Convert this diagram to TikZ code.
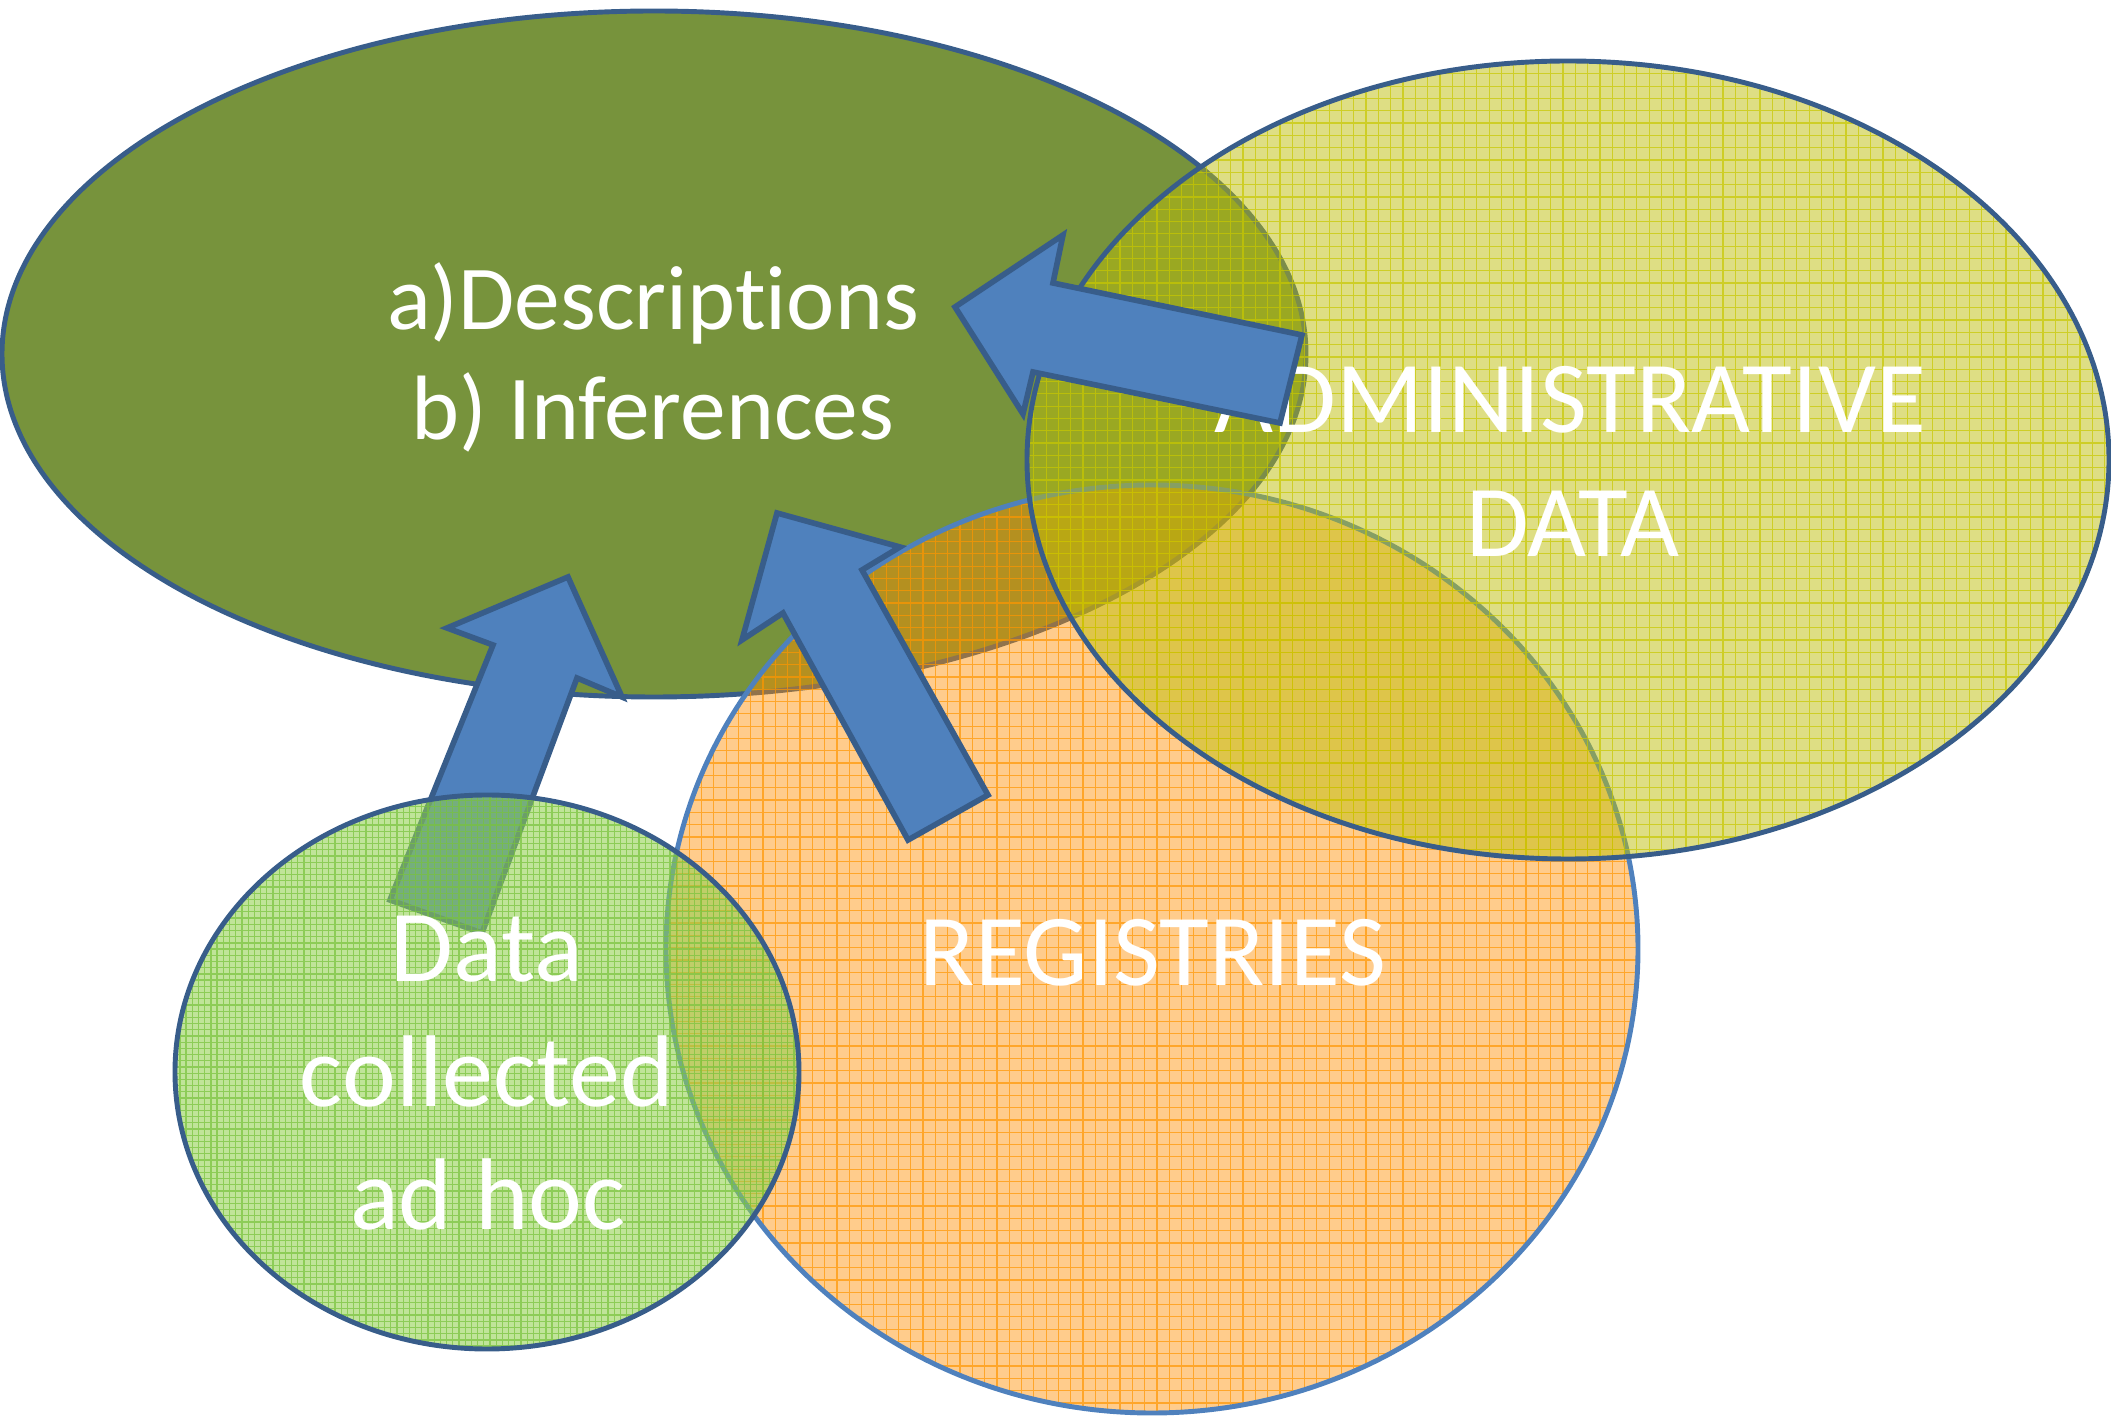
\documentclass[tikz,border=0pt]{standalone}
\usepackage{fontspec}
\setmainfont[Ligatures=NoCommon]{Carlito}

\definecolor{findgreen}{RGB}{119,147,60}
\definecolor{rimblue}{RGB}{56,93,138}
\definecolor{arrowblue}{RGB}{79,129,189}
\definecolor{regorange}{RGB}{255,142,0}
\definecolor{regmesh}{RGB}{255,150,0}
\definecolor{admyellow}{RGB}{190,190,10}
\definecolor{admmesh}{RGB}{200,200,0}
\definecolor{adhocgreen}{RGB}{146,208,80}
\definecolor{adhocmesh}{RGB}{120,195,60}

\newcommand\lblbig{\fontsize{29}{35}\selectfont}
\newcommand\lbldesc{\fontsize{26}{31}\selectfont}

% translucent squared-paper fill of an ellipse:
% #1 cx, #2 cy, #3 rx, #4 ry, #5 fill colour, #6 fill opacity, #7 line colour, #8 step
\newcommand\meshbubble[8]{%
  \fill[#5, fill opacity=#6] (#1,#2) ellipse [x radius=#3, y radius=#4];
  \begin{scope}
    \clip (#1,#2) ellipse [x radius=#3, y radius=#4];
    \draw[#7, line width=0.35pt, draw opacity=0.7]
      ({#1-#3},{#2+#4}) grid [step=#8] ({#1+#3},{#2-#4});
  \end{scope}}

\tikzset{
  rim/.style={draw=rimblue, line width=1.4pt},
  blockarrow/.style={fill=arrowblue, draw=rimblue, line width=1.6pt, line join=miter},
  label/.style={text=white, inner sep=0pt, anchor=base},
}

\begin{document}
\begin{tikzpicture}[x=0.01cm,y=-0.01cm]
\useasboundingbox (0,0) rectangle (2111,1416);

% descriptions and inferences
\coordinate (findings) at (654,354);
\fill[findgreen] (findings) ellipse [x radius=652, y radius=343];
\draw[rim] (findings) ellipse [x radius=652, y radius=343];
\node[label, font=\lbldesc] (desc) at (653,330) {a)Descriptions};
\node[label, font=\lbldesc] (infer) at (653,440) {b) Inferences};

% arrow rising from the ad hoc data
\draw[blockarrow] (568,577) -- (622,697) -- (577,678) -- (482,933)
  -- (390,900) -- (493,645) -- (447,628) -- cycle;

% registries
\coordinate (reg) at (1152,949);
\meshbubble{1152}{949}{486}{464}{regorange}{0.45}{regmesh}{0.123cm}
\draw[rim, draw=arrowblue] (reg) ellipse [x radius=486, y radius=464];
\node[label, font=\lblbig] (registries) at (1153,986) {REGISTRIES};

% arrow rising from the registries
\draw[blockarrow] (777,513) -- (900,547) -- (862,570) -- (988,795)
  -- (908,840) -- (783,613) -- (742,640) -- cycle;

% data collected ad hoc
\coordinate (adhoc) at (487,1072);
\meshbubble{487}{1072}{312}{277}{adhocgreen}{0.58}{adhocmesh}{0.062cm}
\draw[rim] (adhoc) ellipse [x radius=312, y radius=277];
\node[label, font=\lblbig] (adhoc1) at (487,982) {Data};
\node[label, font=\lblbig] (adhoc2) at (487,1107) {collected};
\node[label, font=\lblbig] (adhoc3) at (488,1230) {ad hoc};

% administrative data
\coordinate (admin) at (1568,460);
\meshbubble{1568}{460}{541}{399}{admyellow}{0.5}{admmesh}{0.123cm}
\draw[rim] (admin) ellipse [x radius=541, y radius=399];
\node[label, font=\lblbig] (admin1) at (1570,433) {ADMINISTRATIVE};
\node[label, font=\lblbig] (admin2) at (1573,557) {DATA};

% arrow from the administrative data
\draw[blockarrow] (955,307) -- (1063,235) -- (1053,283) -- (1302,335)
  -- (1280,423) -- (1033,372) -- (1023,414) -- cycle;
\end{tikzpicture}
\end{document}
